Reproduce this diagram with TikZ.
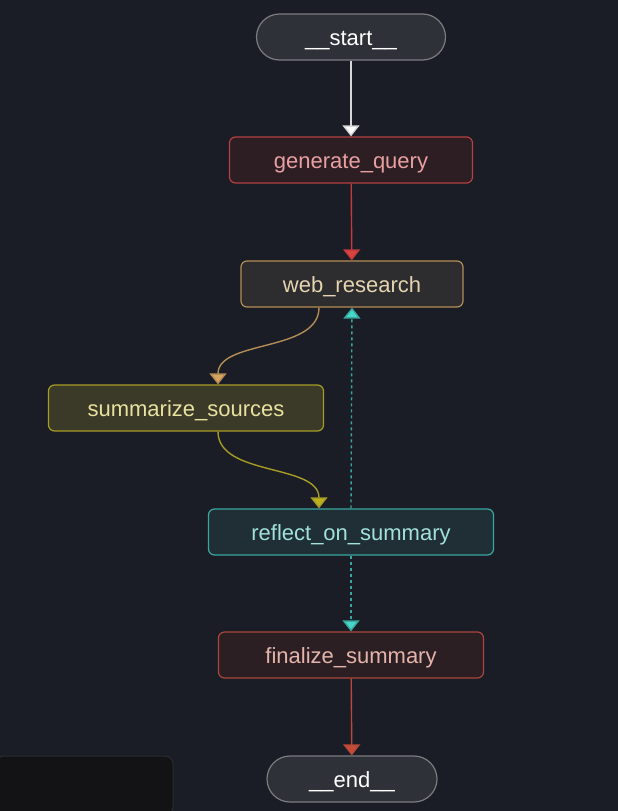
\documentclass[tikz,border=0pt]{standalone}
\usepackage{fontspec}
\setmainfont{Liberation Sans}
\usetikzlibrary{arrows.meta}
\definecolor{bgdark}{RGB}{26,29,37}
\definecolor{panelfill}{RGB}{19,19,21}
\definecolor{panelline}{RGB}{42,43,46}
\definecolor{termfill}{RGB}{47,49,56}
\definecolor{termline}{RGB}{122,124,128}
\definecolor{queryfill}{RGB}{45,30,36}
\definecolor{queryline}{RGB}{180,64,64}
\definecolor{querytext}{RGB}{232,160,160}
\definecolor{webfill}{RGB}{45,44,46}
\definecolor{webline}{RGB}{180,140,85}
\definecolor{webtext}{RGB}{230,212,176}
\definecolor{sumfill}{RGB}{59,58,40}
\definecolor{sumline}{RGB}{165,155,37}
\definecolor{sumtext}{RGB}{232,225,160}
\definecolor{reffill}{RGB}{32,46,53}
\definecolor{refline}{RGB}{58,166,160}
\definecolor{reftext}{RGB}{160,225,220}
\definecolor{finfill}{RGB}{44,31,36}
\definecolor{finline}{RGB}{170,70,58}
\definecolor{fintext}{RGB}{228,180,170}
\definecolor{loopteal}{RGB}{70,215,200}
\definecolor{startarrow}{RGB}{215,215,218}
\definecolor{queryedge}{RGB}{195,58,58}
\definecolor{queryarrow}{RGB}{215,68,66}
\definecolor{webarrow}{RGB}{214,165,95}
\definecolor{sumarrow}{RGB}{190,175,30}
\definecolor{finedge}{RGB}{185,72,56}
\definecolor{finarrow}{RGB}{195,75,55}

\begin{document}
\begin{tikzpicture}[x=1pt,y=-1pt,
    gnode/.style={draw, line width=1.2pt, rounded corners=6pt, minimum height=46pt,
        inner sep=0pt, text height=17pt, text depth=0pt, font=\fontsize{22}{26}\selectfont},
    term/.style={gnode, fill=termfill, draw=termline, text=white, rounded corners=23pt},
    flow/.style={line width=1.4pt}]
    \fill[bgdark] (0,0) rectangle (618,811);
    \useasboundingbox (0,0) rectangle (618,811);
    % panel in the corner
    \filldraw[fill=panelfill, draw=panelline, line width=1pt, rounded corners=8pt]
        (-4,815) -- (-4,756) -- (173,756) -- (173,815) -- cycle;

    \node[term, minimum width=189pt] (start) at (351,37) {\_\_start\_\_};
    \node[gnode, fill=queryfill, draw=queryline, text=querytext, minimum width=243pt] (query) at (351,160) {generate\_query};
    \node[gnode, fill=webfill, draw=webline, text=webtext, minimum width=222pt] (web) at (352,284) {web\_research};
    \node[gnode, fill=sumfill, draw=sumline, text=sumtext, minimum width=275pt] (sources) at (186,408) {summarize\_sources};
    \node[gnode, fill=reffill, draw=refline, text=reftext, minimum width=285pt] (reflect) at (351,532) {reflect\_on\_summary};
    \node[gnode, fill=finfill, draw=finline, text=fintext, minimum width=265pt] (final) at (351,655) {finalize\_summary};
    \node[term, minimum width=170pt] (end) at (352,779) {\_\_end\_\_};

    \draw[flow, draw=startarrow, -{Triangle[width=17pt,length=11pt,fill=white]}] (start) -- (query);
    \draw[flow, draw=queryedge, -{Triangle[width=17pt,length=11pt,fill=queryarrow]}] (query) -- (web);
    \draw[flow, draw=webline, -{Triangle[width=17pt,length=11pt,fill=webarrow]}]
        ([xshift=-33pt]web.south) .. controls +(0,45) and +(0,-45) .. ([xshift=32pt]sources.north);
    \draw[flow, draw=sumline, -{Triangle[width=17pt,length=11pt,fill=sumarrow]}]
        ([xshift=32pt]sources.south) .. controls +(0,45) and +(0,-45) .. ([xshift=-32pt]reflect.north);
    \draw[flow, draw=refline, dash pattern=on 3pt off 3pt, -{Triangle[width=17pt,length=11pt,fill=loopteal]}]
        (reflect.north) -- (web.south);
    \draw[flow, draw=refline, dash pattern=on 3pt off 3pt, -{Triangle[width=17pt,length=11pt,fill=loopteal]}]
        (reflect.south) -- (final.north);
    \draw[flow, draw=finedge, -{Triangle[width=17pt,length=11pt,fill=finarrow]}] (final) -- (end);
\end{tikzpicture}
\end{document}
